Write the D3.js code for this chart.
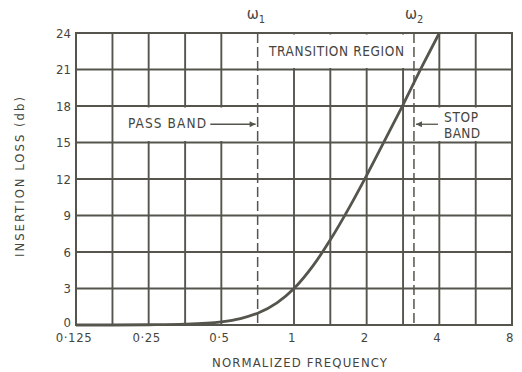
<!DOCTYPE html>
<html><head><meta charset="utf-8">
<script src="https://cdn.jsdelivr.net/npm/d3@7"></script>
<style>
html,body{margin:0;padding:0;background:#fff;}
text{font-family:"DejaVu Sans Condensed","DejaVu Sans",sans-serif;fill:#45453d;}
</style></head>
<body>
<svg id="c" width="522" height="372"></svg>
<script>
const freq = [0.125, 0.177, 0.25, 0.354, 0.5, 0.6, 0.707, 0.85, 1, 1.2, 1.414, 1.7, 2, 2.4, 2.83, 3.4, 4];
const loss = [0.0, 0.0, 0.02, 0.07, 0.26, 0.53, 0.97, 1.82, 3.0, 4.88, 7.0, 9.71, 12.3, 15.34, 18.1, 21.29, 24];
const xTickVals = [0.125, 0.25, 0.5, 1, 2, 4, 8];
const xTickLabels = ["0·125", "0·25", "0·5", "1", "2", "4", "8"];
const xGridVals = [0.177, 0.25, 0.354, 0.5, 1, 1.414, 2, 2.83, 4, 5.66];
const yTickVals = [0, 3, 6, 9, 12, 15, 18, 21, 24];
const omegaVals = [0.707, 3.14];
const omegaLabels = ["ω", "ω"];
const omegaSubs = ["1", "2"];

const col = "#55554d";
const svg = d3.select("#c");
const x = d3.scaleLog().base(2).domain([0.125, 8]).range([76, 512]);
const y = d3.scaleLinear().domain([0, 24]).range([325, 33]);

// grid
svg.append("g").selectAll("line").data(xGridVals).join("line")
  .attr("x1", d => x(d)).attr("x2", d => x(d)).attr("y1", y(0)).attr("y2", y(24))
  .attr("stroke", col).attr("stroke-width", 1.9);
svg.append("g").selectAll("line").data(yTickVals).join("line")
  .attr("x1", x(0.125)).attr("x2", x(8)).attr("y1", d => y(d)).attr("y2", d => y(d))
  .attr("stroke", col).attr("stroke-width", 1.9);

// white boxes for annotations
const boxes = [
  {x0: 0.18, x1: 0.70, y0: 15, y1: 18},
  {x0: 0.715, x1: 3.1, y0: 21, y1: 24},
  {x0: 3.2, x1: 8, y0: 15, y1: 18}
];
svg.append("g").selectAll("rect").data(boxes).join("rect")
  .attr("x", d => x(d.x0)).attr("width", d => x(d.x1) - x(d.x0))
  .attr("y", d => y(d.y1) + 1.5).attr("height", d => y(d.y0) - y(d.y1) - 3)
  .attr("fill", "#fff");

// border
svg.append("rect").attr("x", x(0.125)).attr("y", y(24)).attr("width", x(8) - x(0.125))
  .attr("height", y(0) - y(24)).attr("fill", "none").attr("stroke", col).attr("stroke-width", 2);

// dashed omega lines
svg.append("g").selectAll("line").data(omegaVals).join("line")
  .attr("x1", d => x(d)).attr("x2", d => x(d)).attr("y1", y(24)).attr("y2", y(0))
  .attr("stroke", col).attr("stroke-width", 1.5).attr("stroke-dasharray", "10,4");

// omega labels
const om = svg.append("g").selectAll("text").data(omegaVals).join("text")
  .attr("x", (d, i) => x(d) - (i === 0 ? 11 : 9)).attr("y", 19).attr("font-size", 16);
om.append("tspan").text((d, i) => omegaLabels[i]);
om.append("tspan").attr("dy", 4).attr("font-size", 11).text((d, i) => omegaSubs[i]);

// curve
const line = d3.line().x(d => x(d[0])).y(d => y(d[1])).curve(d3.curveMonotoneX);
svg.append("path").datum(freq.map((f, i) => [f, loss[i]]))
  .attr("d", line).attr("fill", "none").attr("stroke", "#55554d").attr("stroke-width", 2.8);

// axis labels
svg.append("g").selectAll("text").data(yTickVals).join("text")
  .attr("x", 71).attr("y", d => Math.min(y(d) + 4.6, y(0) + 1.5)).attr("text-anchor", "end")
  .attr("font-size", 13).text(d => d);
svg.append("g").selectAll("text").data(xTickVals).join("text")
  .attr("x", d => x(d) - 2).attr("y", 342).attr("text-anchor", "middle")
  .attr("font-size", 13).attr("letter-spacing", 0.6).text((d, i) => xTickLabels[i]);

svg.append("text").attr("x", 212).attr("y", 367)
  .attr("font-size", 13).attr("textLength", 175).attr("lengthAdjust", "spacing").text("NORMALIZED FREQUENCY");
svg.append("text").attr("transform", "translate(24,257) rotate(-90)")
  .attr("font-size", 13).attr("textLength", 160).attr("lengthAdjust", "spacing").text("INSERTION LOSS (db)");

// annotations
svg.append("text").attr("x", 269).attr("y", 56)
  .attr("font-size", 13.5).attr("textLength", 135).attr("lengthAdjust", "spacing").text("TRANSITION REGION");
svg.append("text").attr("x", 128).attr("y", 128)
  .attr("font-size", 13.5).attr("textLength", 78).attr("lengthAdjust", "spacing").text("PASS BAND");
svg.append("text").attr("x", 444).attr("y", 122)
  .attr("font-size", 13.5).attr("textLength", 34).attr("lengthAdjust", "spacing").text("STOP");
svg.append("text").attr("x", 444).attr("y", 138)
  .attr("font-size", 13.5).attr("textLength", 36).attr("lengthAdjust", "spacing").text("BAND");

// arrows
const arrows = [{from: 0.45, to: 0.707, yv: 16.5}, {from: 3.95, to: 3.14, yv: 16.5}];
svg.append("defs").append("marker").attr("id", "ah").attr("viewBox", "0 0 10 10")
  .attr("refX", 10).attr("refY", 5).attr("markerWidth", 10).attr("markerHeight", 6)
  .attr("markerUnits", "userSpaceOnUse").attr("orient", "auto")
  .append("path").attr("d", "M0,0L10,5L0,10Z").attr("fill", col);
svg.append("g").selectAll("line").data(arrows).join("line")
  .attr("x1", d => x(d.from)).attr("x2", d => x(d.to) + (d.to < d.from ? 2 : -2))
  .attr("y1", d => y(d.yv)).attr("y2", d => y(d.yv))
  .attr("stroke", col).attr("stroke-width", 1.3).attr("marker-end", "url(#ah)");
</script>
</body></html>
